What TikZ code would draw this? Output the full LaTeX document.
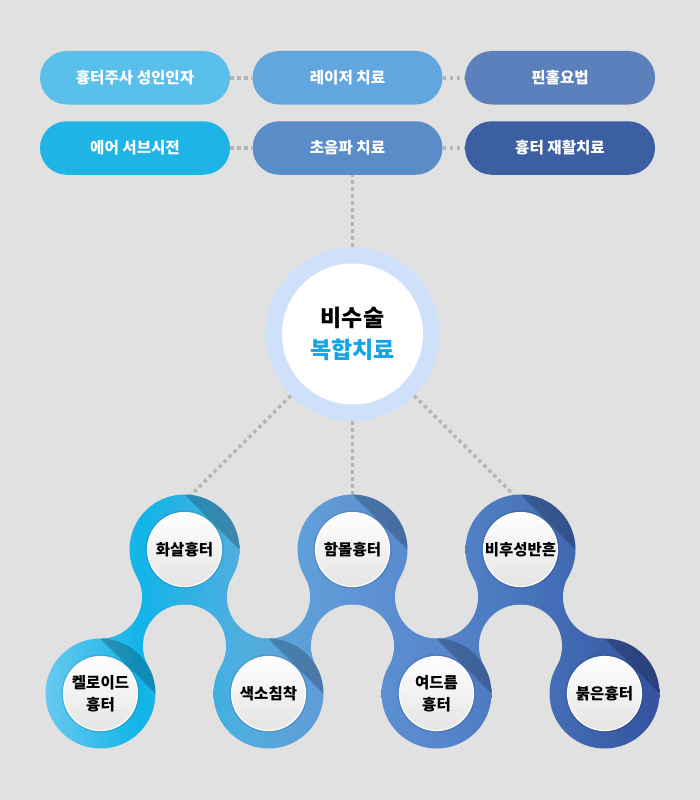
\documentclass[tikz,border=0pt]{standalone}
\usepackage{fontspec}
\setmainfont{Noto Sans CJK KR}
\usetikzlibrary{calc}
\definecolor{bg}{HTML}{E1E1E1}
\definecolor{p1}{HTML}{5BBFEB}
\definecolor{p2}{HTML}{62A6DF}
\definecolor{p3}{HTML}{5C80BB}
\definecolor{p4}{HTML}{1FB4E6}
\definecolor{p5}{HTML}{5A8CC7}
\definecolor{p6}{HTML}{3C5EA3}
\definecolor{dotc}{HTML}{B5B5B5}
\definecolor{ringc}{HTML}{CFE0FA}
\definecolor{hl}{HTML}{16A4E6}
\definecolor{corebot}{HTML}{E4E4E4}
\definecolor{b1}{HTML}{6CCAF0}
\definecolor{b2}{HTML}{12B4E8}
\definecolor{b3}{HTML}{50AEDF}
\definecolor{b4}{HTML}{6199D7}
\definecolor{b5}{HTML}{5686CB}
\definecolor{b6}{HTML}{4571B9}
\definecolor{b7}{HTML}{34519E}
\pgfdeclarehorizontalshading{band}{100bp}{color(0bp)=(b1); color(25bp)=(b1); color(33bp)=(b2); color(41bp)=(b3); color(48bp)=(b4); color(57bp)=(b5); color(65bp)=(b6); color(75bp)=(b7); color(100bp)=(b7)}
\begin{document}
\begin{tikzpicture}[x=1pt,y=-1pt,
  pill/.style={rectangle, rounded corners=26.75pt, minimum width=190pt, minimum height=53.5pt, inner sep=0pt, text=white, font=\bfseries\fontsize{15.6}{18}\selectfont},
  dots/.style={draw=dotc, line width=3.5pt, dash pattern=on 3.5pt off 3.5pt},
  ringspot/.style={circle, minimum size=110pt, inner sep=0pt, outer sep=0pt},
  core/.style={circle, minimum size=74pt, inner sep=0pt, top color=white, bottom color=corebot, draw=white, line width=1.2pt, align=center, text=black, font=\bfseries\fontsize{15.5}{22.5}\selectfont},
  bandfill/.style={shading=band}]
\fill[bg] (0,0) rectangle (700,800);
\useasboundingbox (0,0) rectangle (700,800);

% top pills
\node[pill, fill=p1] (q1) at (135,77.75) {흉터주사 성인인자};
\node[pill, fill=p2] (q2) at (347.5,77.75) {레이저 치료};
\node[pill, fill=p3] (q3) at (560,77.75) {핀홀요법};
\node[pill, fill=p4] (q4) at (135,148) {에어 서브시전};
\node[pill, fill=p5] (q5) at (347.5,148) {초음파 치료};
\node[pill, fill=p6] (q6) at (560,148) {흉터 재활치료};
\draw[dots] (q1) -- (q2);
\draw[dots] (q2) -- (q3);
\draw[dots] (q4) -- (q5);
\draw[dots] (q5) -- (q6);

% central circle
\node[circle, minimum size=174pt, inner sep=0pt, fill=ringc] (main) at (352.5,334) {};
\node[circle, minimum size=141pt, inner sep=0pt, fill=white, align=center, text=black,
  font=\bfseries\fontsize{23}{32.5}\selectfont] (center) at (main.center) {비수술\\\textcolor{hl}{복합치료}};
\draw[dots] (main.north) -- (main.north |- q5.south);

% ring anchors
\node[ringspot] (k1) at (100.5,693.5) {};
\node[ringspot] (k2) at (184.5,549.5) {};
\node[ringspot] (k3) at (268.5,693.5) {};
\node[ringspot] (k4) at (352.5,549.5) {};
\node[ringspot] (k5) at (436.5,693.5) {};
\node[ringspot] (k6) at (520.5,549.5) {};
\node[ringspot] (k7) at (604.5,693.5) {};

\draw[dots] (main.-135) -- (k2.83);
\draw[dots] (main.south) -- (k4.north);
\draw[dots] (main.-45) -- (k6.97);

% band necks
\begin{scope}
\clip (100.5,597) -- (184.5,549.5) -- (268.5,597) -- (352.5,549.5) -- (436.5,597) -- (520.5,549.5) -- (604.5,597)
  -- (604.5,693.5) -- (520.5,646) -- (436.5,693.5) -- (352.5,646) -- (268.5,693.5) -- (184.5,646) -- (100.5,693.5) -- cycle;
\shade[bandfill] (40,480) rectangle (665,760);
\end{scope}
\foreach \fx/\fy in {100.5/597, 268.5/597, 436.5/597, 604.5/597, 184.5/646, 352.5/646, 520.5/646}
  \fill[bg] (\fx,\fy) circle (41.5);

% rings
\foreach \k in {k1,k2,k3,k4,k5,k6,k7}{
  \begin{scope}
  \clip (\k.center) circle (55);
  \shade[bandfill] (40,480) rectangle (665,760);
  \end{scope}
  \fill[black, opacity=0.22] ($(\k.center)+(55,0)$) arc[start angle=0, end angle=-90, radius=55] -- cycle;
  \fill[black, opacity=0.1] (\k.center) circle (39);
}

% inner labels
\node[core] (c1) at (k1.center) {켈로이드\\흉터};
\node[core] (c2) at (k2.center) {화살흉터};
\node[core] (c3) at (k3.center) {색소침착};
\node[core] (c4) at (k4.center) {함몰흉터};
\node[core] (c5) at (k5.center) {여드름\\흉터};
\node[core] (c6) at (k6.center) {비후성반흔};
\node[core] (c7) at (k7.center) {붉은흉터};
\end{tikzpicture}
\end{document}
